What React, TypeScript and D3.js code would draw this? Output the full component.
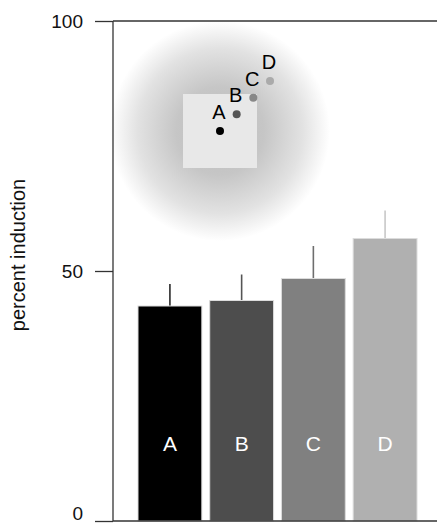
import React, { Component } from "react";
import * as d3 from "d3";

// bar chart values (percent induction)
const groups = ["A", "B", "C", "D"];
const means = [43, 44.1, 48.5, 56.5];
const errTops = [47.4, 49.3, 55, 62.1];
const barColors = ["#000000", "#4d4d4d", "#808080", "#b0b0b0"];
const errColors = ["#2a2a2a", "#555555", "#6e6e6e", "#c8c8c8"];
const yTicks = [0, 50, 100];

// inset: each condition's step along the diagonal
const insetPos = [0, 1, 2, 3];
const dotColors = ["#000000", "#555555", "#888888", "#aaaaaa"];

class App extends Component {
    svgRef = React.createRef<SVGSVGElement>();

    componentDidMount() {
        this.componentDidUpdate();
    }

    componentDidUpdate() {
        var W = 437, H = 524;
        var margin = { top: 21, right: 0, bottom: 3, left: 113 },
            w = W - margin.left - margin.right,
            h = H - margin.top - margin.bottom;

        var svg = d3.select(this.svgRef.current).attr("width", W).attr("height", H);
        svg.selectAll("*").remove();

        var font = "'Liberation Sans', Arial, Helvetica, sans-serif";

        // radial shading behind the inset
        var defs = svg.append("defs");
        var grad = defs.append("radialGradient").attr("id", "halo");
        grad.append("stop").attr("offset", "0%").attr("stop-color", "#bdbdbd");
        grad.append("stop").attr("offset", "40%").attr("stop-color", "#c6c6c6");
        grad.append("stop").attr("offset", "75%").attr("stop-color", "#e2e2e2");
        grad.append("stop").attr("offset", "100%").attr("stop-color", "#ffffff");

        var g = svg.append("g").attr("transform", `translate(${margin.left}, ${margin.top})`);

        const y = d3.scaleLinear().domain([0, 100]).range([h, 0]);
        const x = d3.scaleBand().domain(groups).range([25, 304]).paddingInner(0.11);

        // inset
        const ix = d3.scaleLinear().domain([0, 3]).range([107, 157]);
        const iy = d3.scaleLinear().domain([0, 3]).range([110, 60]);
        g.append("circle")
            .attr("cx", ix(0)).attr("cy", iy(0)).attr("r", 110)
            .attr("fill", "url(#halo)");
        g.append("rect")
            .attr("x", ix(0) - 37).attr("y", iy(0) - 37)
            .attr("width", 74).attr("height", 74)
            .attr("fill", "#e8e8e8");
        g.selectAll(".dot").data(insetPos).join("circle").attr("class", "dot")
            .attr("cx", d => ix(d)).attr("cy", d => iy(d)).attr("r", 4)
            .attr("fill", (d, i) => dotColors[i]);
        g.selectAll(".dot_label").data(insetPos).join("text").attr("class", "dot_label")
            .attr("x", d => ix(d) - 1).attr("y", d => iy(d) - 12)
            .attr("text-anchor", "middle")
            .style("font-family", font).style("font-size", "20px")
            .attr("fill", "#000")
            .text((d, i) => groups[i]);

        // error bars (drawn first, bars sit on top)
        g.selectAll(".err").data(groups).join("line").attr("class", "err")
            .attr("x1", d => x(d)! + x.bandwidth() / 2)
            .attr("x2", d => x(d)! + x.bandwidth() / 2)
            .attr("y1", (d, i) => y(means[i]))
            .attr("y2", (d, i) => y(errTops[i]))
            .attr("stroke", (d, i) => errColors[i])
            .attr("stroke-width", 1.6);

        // bars
        g.selectAll(".bar").data(groups).join("rect").attr("class", "bar")
            .attr("x", d => x(d)!)
            .attr("y", (d, i) => y(means[i]))
            .attr("width", x.bandwidth())
            .attr("height", (d, i) => y(0) - y(means[i]))
            .attr("fill", (d, i) => barColors[i])
            .attr("stroke", "#dcdcdc")
            .attr("stroke-width", 1);

        g.selectAll(".bar_label").data(groups).join("text").attr("class", "bar_label")
            .attr("x", d => x(d)! + x.bandwidth() / 2)
            .attr("y", y(14))
            .attr("text-anchor", "middle")
            .style("font-family", font).style("font-size", "21px")
            .attr("fill", "#fff")
            .text(d => d);

        // Y axis
        var axis = g.append("g")
            .call(d3.axisLeft(y).tickValues(yTicks).tickSize(18).tickPadding(12).tickFormat(d3.format("d")));
        axis.select(".domain").remove();
        axis.selectAll("line").attr("stroke", "#333").attr("stroke-width", 1.3);
        axis.selectAll("text").style("font-family", font).style("font-size", "19px").attr("fill", "#111");
        // keep the "0" label inside the picture
        axis.selectAll("text").filter(d => d === 0).attr("dy", "-0.08em");

        g.append("line").attr("x1", 0).attr("x2", 0).attr("y1", y(100)).attr("y2", y(0))
            .attr("stroke", "#333").attr("stroke-width", 1.3);
        // frame lines at 0 and 100
        [0, 100].forEach(v => {
            g.append("line").attr("x1", 0).attr("x2", w).attr("y1", y(v)).attr("y2", y(v))
                .attr("stroke", "#333").attr("stroke-width", 1.3);
        });

        // Y axis label
        svg.append("text")
            .attr("text-anchor", "middle")
            .attr("transform", `translate(25, 255) rotate(-90)`)
            .style("font-family", font).style("font-size", "20px")
            .attr("fill", "#111")
            .text("percent induction");
    }

    render() {
        return (
            <svg ref={this.svgRef} style={{ position: "absolute", left: 0, top: 0 }}></svg>
        );
    }
}

export default App;
